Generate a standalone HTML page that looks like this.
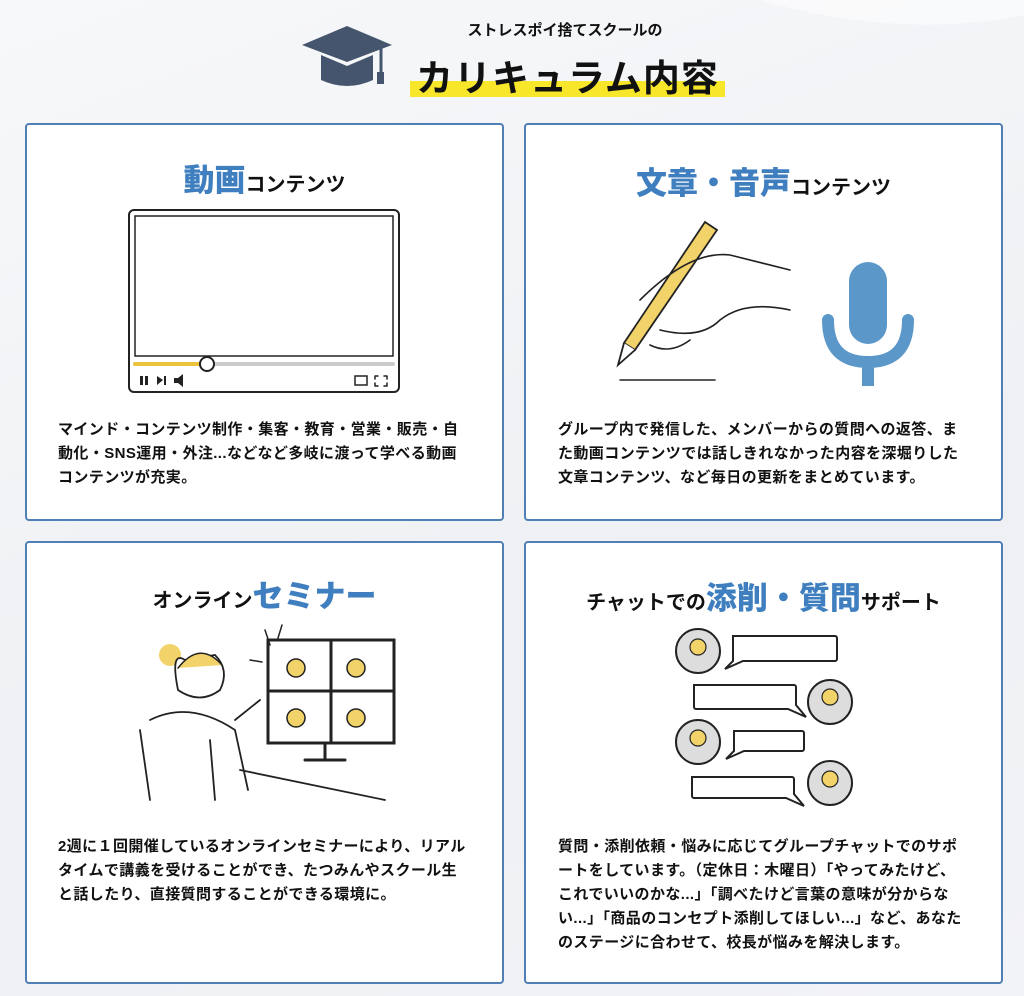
<!DOCTYPE html>
<html><head><meta charset="utf-8"><style>
*{margin:0;padding:0;box-sizing:border-box}
body{width:1024px;height:996px;overflow:hidden;background:linear-gradient(160deg,#f7f8fa 0%,#eef0f3 60%,#f2f3f6 100%);font-family:"Liberation Sans","Noto Sans CJK JP",sans-serif;position:relative;color:#111}
.card{position:absolute;background:#fff;border:2px solid #4f7fb5;border-radius:4px}
.t{position:absolute;left:0;right:0;text-align:center;font-weight:bold;font-size:20px;white-space:nowrap}
.t b{color:#3f7fbf;font-size:31px}
.p{position:absolute;font-size:15px;letter-spacing:0.4px;font-weight:bold;line-height:24px;color:#111}
svg{position:absolute;left:0;top:0}
</style></head><body>
<svg width="1024" height="996">
<path d="M760 0 Q900 40 1024 15 L1024 0Z" fill="#fff" opacity=".5"/>
<path d="M302 45 L347 26 L392 45 L347 62Z" fill="#45556e"/>
<path d="M321 55 L321 80 Q347 92 373 80 L373 55 L347 66Z" fill="#45556e"/>
<line x1="381" y1="48" x2="381" y2="75" stroke="#45556e" stroke-width="3"/>
<rect x="377" y="72" width="7" height="12" fill="#45556e"/>
<rect x="410" y="81" width="315" height="16" fill="#f7e62a"/>
</svg>
<div style="position:absolute;left:400px;width:330px;top:19px;text-align:center;font-size:15px;font-weight:bold">ストレスポイ捨てスクールの</div>
<div style="position:absolute;left:400px;width:335px;top:48px;text-align:center;font-size:37px;font-weight:bold;letter-spacing:1px">カリキュラム内容</div>

<div class="card" style="left:25px;top:123px;width:479px;height:398px">
<div class="t" style="top:30px"><b>動画</b>コンテンツ</div>
<div class="p" style="left:31px;top:293px;width:412px">マインド・コンテンツ制作・集客・教育・営業・販売・自動化・SNS運用・外注...などなど多岐に渡って学べる動画コンテンツが充実。</div>
</div>
<div class="card" style="left:524px;top:123px;width:479px;height:398px">
<div class="t" style="top:33px"><b>文章・音声</b>コンテンツ</div>
<div class="p" style="left:32px;top:293px;width:412px">グループ内で発信した、メンバーからの質問への返答、また動画コンテンツでは話しきれなかった内容を深堀りした文章コンテンツ、など毎日の更新をまとめています。</div>
</div>
<div class="card" style="left:25px;top:541px;width:479px;height:443px">
<div class="t" style="top:28px">オンライン<b>セミナー</b></div>
<div class="p" style="left:31px;top:292px;width:412px">2週に１回開催しているオンラインセミナーにより、リアルタイムで講義を受けることができ、たつみんやスクール生と話したり、直接質問することができる環境に。</div>
</div>
<div class="card" style="left:524px;top:541px;width:479px;height:443px">
<div class="t" style="top:30px">チャットでの<b>添削・質問</b>サポート</div>
<div class="p" style="left:32px;top:292px;width:412px">質問・添削依頼・悩みに応じてグループチャットでのサポートをしています。（定休日：木曜日）「やってみたけど、これでいいのかな...」「調べたけど言葉の意味が分からない...」「商品のコンセプト添削してほしい...」など、あなたのステージに合わせて、校長が悩みを解決します。</div>
</div>

<svg width="1024" height="996" style="pointer-events:none" fill="none" stroke="#222" stroke-width="2" stroke-linecap="round">
<rect x="129" y="210" width="270" height="182" rx="5"/>
<rect x="135" y="216" width="258" height="140" stroke-width="1.5"/>
<line x1="135" y1="364" x2="393" y2="364" stroke="#ccc" stroke-width="4"/>
<line x1="135" y1="364" x2="207" y2="364" stroke="#e9c43c" stroke-width="4"/>
<circle cx="207" cy="364" r="7" fill="#fff"/>
<g fill="#222" stroke="none"><rect x="140" y="376" width="3" height="9"/><rect x="145" y="376" width="3" height="9"/><path d="M157 376 L163 380 L157 385Z"/><rect x="164" y="376" width="2" height="9"/><path d="M174 378 h4 l5 -4 v13 l-5 -4 h-4z"/></g>
<rect x="355" y="376" width="12" height="9" stroke-width="1.5"/>
<path d="M375 376 h3 M375 376 v3 M387 376 h-3 M387 376 v3 M375 386 h3 M375 386 v-3 M387 386 h-3 M387 386 v-3" stroke-width="1.5"/>
<path d="M705 222 L717 230 L635 350 L624 343Z" fill="#f1d36a" stroke-width="1.8"/>
<path d="M624 343 L618 365 L635 350" fill="#fff" stroke-width="1.8"/>
<path d="M620 380 L715 380" stroke-width="1.5"/>
<path d="M640 300 Q690 250 730 255 Q770 265 790 270 M660 330 Q700 340 720 320 Q745 300 790 310 M650 345 Q670 355 690 340" stroke-width="1.6"/>
<rect x="849" y="262" width="38" height="82" rx="19" fill="#5b98c9" stroke="none"/>
<path d="M828 320 Q828 362 868 362 Q908 362 908 320" stroke="#5b98c9" stroke-width="12"/>
<line x1="868" y1="362" x2="868" y2="386" stroke="#5b98c9" stroke-width="12" stroke-linecap="butt"/>
<rect x="268" y="640" width="126" height="103" stroke-width="3"/>
<line x1="331" y1="640" x2="331" y2="743" stroke-width="3"/><line x1="268" y1="691" x2="394" y2="691" stroke-width="3"/>
<path d="M325 743 v15 M305 760 h40" stroke-width="3"/>
<circle cx="296" cy="668" r="9" fill="#f1d36a" stroke-width="1.5"/><circle cx="356" cy="668" r="9" fill="#f1d36a" stroke-width="1.5"/>
<circle cx="296" cy="718" r="9" fill="#f1d36a" stroke-width="1.5"/><circle cx="356" cy="718" r="9" fill="#f1d36a" stroke-width="1.5"/>
<circle cx="170" cy="655" r="11" fill="#f1d36a" stroke="none"/>
<path d="M185 660 Q170 650 178 690 Q200 705 220 690 Q230 670 215 655Z" fill="#fff" stroke-width="1.8"/>
<path d="M178 668 Q200 640 222 665" fill="#f1d36a" stroke-width="1.5"/>
<path d="M140 730 L150 800 M150 720 Q190 700 235 730 L248 790 M235 720 L260 700 M240 770 L385 800 M210 740 L215 800" stroke-width="1.8"/>
<path d="M265 630 L270 645 M250 660 L262 662 M282 625 L278 638" stroke-width="1.5"/>
<g stroke-width="2">
<g fill="#ddd"><circle cx="698" cy="651" r="22"/><circle cx="830" cy="702" r="22"/><circle cx="698" cy="742" r="22"/><circle cx="830" cy="783" r="22"/></g>
<g fill="#f1d36a" stroke-width="1.2"><circle cx="698" cy="647" r="8"/><circle cx="830" cy="697" r="8"/><circle cx="698" cy="738" r="8"/><circle cx="830" cy="779" r="8"/></g>
<path d="M733 636 h102 a2 2 0 0 1 2 2 v21 a2 2 0 0 1 -2 2 h-92 l-18 8 l8 -8 v-23z" fill="#fff"/>
<path d="M694 685 h100 a2 2 0 0 1 2 2 v18 l10 12 l-18 -8 h-92 a2 2 0 0 1 -2 -2 v-20z" fill="#fff"/>
<path d="M734 731 h68 a2 2 0 0 1 2 2 v16 a2 2 0 0 1 -2 2 h-58 l-18 8 l8 -8 v-20z" fill="#fff"/>
<path d="M692 777 h100 a2 2 0 0 1 2 2 v15 l10 12 l-18 -8 h-92 a2 2 0 0 1 -2 -2 v-17z" fill="#fff"/>
</g>
</svg>
</body></html>
